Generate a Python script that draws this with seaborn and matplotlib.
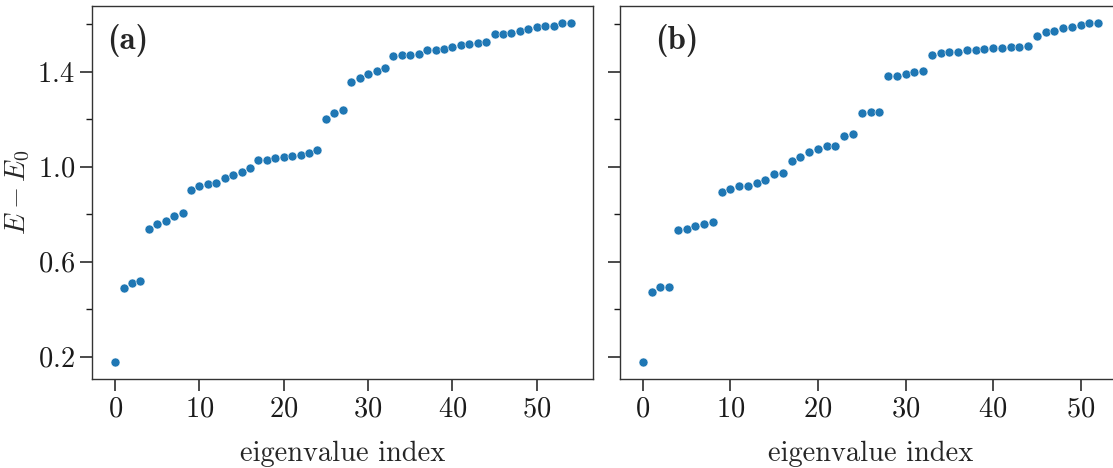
import numpy as np
import pandas as pd
import matplotlib
matplotlib.use("Agg")
import matplotlib.pyplot as plt
from matplotlib.ticker import MultipleLocator
import seaborn as sns

# Panel (a) eigenvalues E - E0
energies_a = [0.178, 0.489, 0.510, 0.519, 0.739, 0.759, 0.771, 0.792, 0.806,
              0.903, 0.919, 0.927, 0.930, 0.951, 0.963, 0.979, 0.996,
              1.028, 1.028, 1.035, 1.042, 1.044, 1.049, 1.056, 1.069,
              1.202, 1.224, 1.239,
              1.355, 1.373, 1.392, 1.403, 1.416,
              1.464, 1.472, 1.472, 1.473, 1.490, 1.491, 1.494, 1.502,
              1.511, 1.515, 1.521, 1.523,
              1.557, 1.557, 1.564, 1.570, 1.581, 1.587, 1.594, 1.594,
              1.605, 1.606]

# Panel (b) eigenvalues E - E0
energies_b = [0.178, 0.472, 0.492, 0.492, 0.735, 0.739, 0.750, 0.759, 0.768,
              0.895, 0.904, 0.919, 0.919, 0.931, 0.945, 0.969, 0.975,
              1.025, 1.041, 1.063, 1.073, 1.085, 1.088, 1.131, 1.136,
              1.224, 1.232, 1.232,
              1.380, 1.380, 1.389, 1.399, 1.401,
              1.470, 1.479, 1.481, 1.481, 1.491, 1.493, 1.496, 1.501,
              1.501, 1.502, 1.505, 1.508,
              1.552, 1.568, 1.573, 1.585, 1.588, 1.595, 1.604, 1.606]

panel_labels = ["(a)", "(b)"]
xlabel = "eigenvalue index"
ylabel = r"$E - E_0$"

sns.set_theme(style="ticks")
FS = 20.5
plt.rcParams.update({
    "font.family": ["cmr10", "DejaVu Serif"],
    "mathtext.fontset": "cm",
    "axes.formatter.use_mathtext": True,
    "axes.edgecolor": "0.2",
    "axes.linewidth": 1.0,
    "xtick.color": "0.1",
    "ytick.color": "0.1",
    "xtick.major.size": 8.5,
    "ytick.major.size": 8.5,
    "ytick.minor.size": 4.3,
    "xtick.major.width": 1.1,
    "ytick.major.width": 1.1,
    "ytick.minor.width": 1.0,
    "xtick.labelsize": FS,
    "ytick.labelsize": FS,
    "axes.labelsize": FS,
})

W, H = 1113, 468
fig = plt.figure(figsize=(W / 100, H / 100), dpi=100)
ax_w = 501 / W
ax_h = (379 - 5.7) / H
ax_b = (H - 379) / H
axA = fig.add_axes([92.3 / W, ax_b, ax_w, ax_h])
axB = fig.add_axes([620 / W, ax_b, ax_w, ax_h], sharey=axA)

color = "#1f77b4"
label_x = [0.030, 0.070]
for ax, vals, lab, lx in zip([axA, axB], [energies_a, energies_b], panel_labels, label_x):
    df = pd.DataFrame({"index": np.arange(len(vals)), "energy": vals})
    sns.scatterplot(data=df, x="index", y="energy", ax=ax, color=color,
                    s=42, edgecolor="white", linewidth=0.4, zorder=3)
    ax.set_xlabel(xlabel, labelpad=13)
    ax.xaxis.set_major_locator(MultipleLocator(10))
    ax.yaxis.set_major_locator(MultipleLocator(0.4, offset=0.2))
    ax.yaxis.set_minor_locator(MultipleLocator(0.4))
    ax.tick_params(axis="both", which="major", pad=4)
    ax.text(lx, 0.952, lab, transform=ax.transAxes, family="cmb10",
            fontsize=23.5, ha="left", va="top")
    ax.margins(x=0.05, y=0.05)

axA.set_ylabel(ylabel, labelpad=4)
axB.set_ylabel("")
axB.tick_params(axis="y", which="both", labelleft=False)

fig.savefig("out.png", dpi=100)
